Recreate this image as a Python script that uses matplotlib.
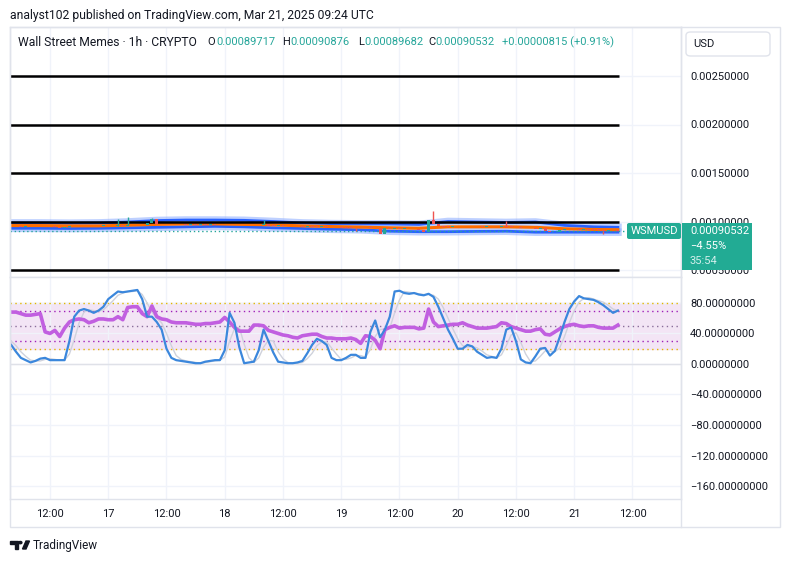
import numpy as np
import matplotlib.pyplot as plt
from matplotlib.patches import FancyBboxPatch, Rectangle, Polygon, Circle
from matplotlib.lines import Line2D

plt.rcParams['font.family'] = ['Roboto', 'DejaVu Sans']

W, H = 785, 562

# hourly bars, hour 0 = Mar 16 00:00
start_hour = 4
first_open_u = 949
# closes in micro-USD
close_u = [950, 952, 948, 951, 953, 950, 949, 951, 953, 948,
           936, 946, 951, 953, 950, 952, 954, 951, 953, 955,
           952, 954, 958, 956, 962, 960, 965, 963, 980, 1025,
           975, 972, 974, 970, 972, 971, 969, 970, 968, 970,
           967, 968, 965, 963, 966, 962, 960, 963, 965, 961,
           959, 960, 972, 957, 955, 956, 953, 951, 952, 950,
           948, 950, 947, 945, 946, 943, 941, 940, 938, 936,
           935, 930, 928, 935, 933, 932, 872, 935, 925, 926,
           924, 925, 920, 918, 917, 895, 1015, 975, 950, 945,
           943, 944, 942, 943, 941, 942, 944, 943, 945, 942,
           944, 950, 948, 946, 940, 935, 930, 928, 926, 930,
           900, 890, 895, 915, 918, 920, 918, 917, 919, 916,
           915, 914, 900, 910, 909, 905.32]
spike_idx = [22, 24, 29, 30, 52, 87, 102]
spike_high_u = [1030, 1050, 1035, 1030, 1012, 1113, 1002]
dip_idx = [10, 71, 76, 122]
dip_low_u = [928, 897, 866, 866]

band_hours = [4, 10, 16, 22, 28, 34, 40, 46, 52, 58, 64, 70, 76, 82, 88,
              94, 100, 106, 112, 118, 124, 129]
band_upper_u = [985, 985, 982, 985, 995, 1010, 1015, 1015, 1012, 1000, 985,
                978, 975, 975, 970, 1000, 995, 990, 995, 960, 945, 940]
band_mid_u = [958, 958, 955, 955, 962, 970, 975, 975, 970, 965, 955,
              948, 942, 935, 930, 945, 945, 945, 940, 925, 918, 915]
band_lower_u = [930, 930, 928, 930, 935, 940, 945, 950, 945, 935, 928,
                920, 915, 900, 895, 895, 898, 900, 890, 890, 890, 890]

stoch_k = [25, 16, 8, 5, 2, 4, 7, 8, 5, 5,
           5, 5, 30, 62, 70, 72, 70, 67, 70, 75,
           85, 90, 95, 94, 95, 96, 97, 85, 62, 62,
           55, 45, 20, 8, 5, 4, 3, 2, 1, 1,
           3, 4, 5, 5, 18, 67, 54, 22, 1, 2,
           3, 18, 45, 30, 15, 3, 2, 1, 1, 2,
           4, 14, 25, 33, 30, 25, 8, 5, 5, 8,
           12, 12, 8, 8, 42, 57, 35, 45, 62, 95,
           96, 93, 92, 93, 91, 90, 92, 88, 75, 60,
           45, 33, 20, 20, 25, 23, 16, 12, 8, 9,
           8, 20, 45, 48, 30, 6, 2, 1, 10, 20,
           21, 11, 17, 35, 55, 72, 82, 89, 86, 85,
           84, 81, 77, 72, 67, 70]
stoch_d = [30, 24, 16, 10, 5, 4, 4, 6, 7, 6,
           5, 5, 13, 32, 54, 68, 71, 70, 69, 71,
           77, 83, 90, 93, 95, 95, 96, 91, 80, 68,
           60, 54, 40, 24, 11, 6, 4, 3, 2, 1,
           2, 3, 4, 5, 9, 30, 46, 48, 26, 8,
           2, 8, 22, 31, 30, 16, 7, 2, 1, 1,
           2, 7, 14, 24, 29, 29, 21, 13, 6, 6,
           8, 11, 11, 9, 19, 36, 45, 46, 47, 67,
           84, 95, 94, 93, 92, 91, 91, 90, 85, 74,
           60, 46, 33, 24, 22, 23, 21, 17, 12, 10,
           8, 12, 24, 38, 41, 28, 13, 3, 4, 10,
           17, 17, 16, 21, 36, 54, 70, 81, 86, 87,
           85, 83, 81, 77, 72, 70]
rsi = [68, 68, 66, 64, 64, 65, 66, 42, 40, 44,
       36, 47, 55, 58, 59, 58, 54, 56, 59, 59,
       58, 58, 62, 58, 74, 75, 75, 66, 62, 76,
       62, 59, 58, 55, 54, 54, 54, 53, 52, 52,
       53, 53, 54, 55, 61, 55, 48, 43, 43, 43,
       51, 51, 50, 44, 42, 40, 38, 37, 35, 34,
       37, 38, 39, 39, 36, 34, 34, 33, 33, 33,
       34, 32, 27, 37, 36, 31, 20, 45, 48, 50,
       47, 48, 48, 48, 46, 47, 72, 55, 49, 50,
       51, 52, 52, 54, 51, 49, 47, 47, 47, 48,
       49, 54, 53, 49, 47, 45, 43, 43, 45, 46,
       39, 38, 42, 46, 49, 51, 52, 50, 49, 50,
       50, 48, 47, 47, 47, 51]

price_levels = [0.0005, 0.0010, 0.0015, 0.0020, 0.0025]
osc_ticks = [80, 40, 0, -40, -80, -120, -160]
time_ticks = [12, 24, 36, 48, 60, 72, 84, 96, 108, 120, 132]
time_labels = ['12:00', '17', '12:00', '18', '12:00', '19', '12:00', '20',
               '12:00', '21', '12:00']
last_price = 0.00090532

GREEN = '#26a69a'
RED = '#ef5350'
TXT = '#131722'
BORDER = '#e0e3eb'
GRID = '#f0f3fa'


def fx(x):
    return x / W


def fy(y):
    return 1 - y / H


fig = plt.figure(figsize=(W / 100, H / 100), dpi=100)
fig.patch.set_facecolor('white')

ax_p = fig.add_axes([fx(10), fy(277), (681 - 10) / W, (277 - 27) / H])
ax_o = fig.add_axes([fx(10), fy(499), (681 - 10) / W, (499 - 277) / H])
xlim = (3.76, 142.0)

# ---- price pane ----
close = np.array(close_u) * 1e-6
open_ = np.r_[first_open_u * 1e-6, close[:-1]]
hours = start_hour + np.arange(len(close))
up = close >= open_
colors = np.where(up, GREEN, RED)

bh = np.array(band_hours)
for vals in (band_upper_u, band_lower_u):
    v = np.array(vals) * 1e-6
    ax_p.plot(bh, v, color='#7fa3ff', lw=5.5, alpha=0.5, zorder=2)
    ax_p.plot(bh, v, color='#2962ff', lw=2, zorder=2.1)
ax_p.plot(bh, np.array(band_mid_u) * 1e-6, color='#ff6d00', lw=2.2, zorder=2.5)

ax_p.hlines(price_levels, hours[0] - 0.3, hours[-1] + 0.3, color='black',
            lw=1.8, zorder=3)

body_bottom = np.minimum(open_, close)
body_h = np.maximum(np.abs(close - open_), 6e-6)
ax_p.bar(hours, body_h, bottom=body_bottom, width=0.6, color=colors, zorder=4)
for i, hi in zip(spike_idx, spike_high_u):
    ax_p.vlines(hours[i], max(open_[i], close[i]), hi * 1e-6, color=colors[i],
                lw=1, zorder=4)
for i, lo in zip(dip_idx, dip_low_u):
    ax_p.vlines(hours[i], lo * 1e-6, min(open_[i], close[i]), color=colors[i],
                lw=1, zorder=4)

ax_p.axhline(last_price, color=GREEN, ls=(0, (1, 2)), lw=1, zorder=3)

ax_p.set_xlim(*xlim)
ax_p.set_ylim(0.0005 - 7 / 97000, 0.0025 + 49 / 97000)
ax_p.set_yticks(price_levels)
ax_p.set_yticklabels([f'{v:.8f}' for v in price_levels])
ax_p.set_xticks(time_ticks)
ax_p.set_xticklabels([])

# ---- oscillator pane ----
ax_o.axhspan(20, 80, color='#f3e5f5', zorder=0.5)
ax_o.axhline(0, color='#dfe1e8', lw=1, zorder=0.6)
for lvl, c in ((80, '#e3b500'), (20, '#e3b500'), (70, '#a020b8'),
               (30, '#a020b8'), (50, '#8a6d9a')):
    ax_o.axhline(lvl, color=c, ls=(0, (1, 2.5)), lw=1, zorder=1)
ax_o.plot(hours, stoch_d, color='#cfd2dc', lw=1, zorder=2)
ax_o.plot(hours, stoch_k, color='#3b87dc', lw=1.6, zorder=3)
ax_o.plot(hours, rsi, color='#c15fe0', lw=2.6, zorder=2.5)

ax_o.set_xlim(*xlim)
ax_o.set_ylim(-177, 114)
ax_o.set_yticks(osc_ticks)
ax_o.set_yticklabels([f'{v:.8f}'.replace('-', '\u2212') for v in osc_ticks])
ax_o.set_xticks(time_ticks)
ax_o.set_xticklabels(time_labels)

for ax in (ax_p, ax_o):
    ax.yaxis.tick_right()
    ax.tick_params(axis='y', length=0, pad=6.5, labelsize=8, labelcolor=TXT)
    ax.tick_params(axis='x', length=0, pad=7, labelsize=8, labelcolor=TXT)
    ax.grid(color=GRID, lw=1, zorder=0)
    ax.set_axisbelow(True)
    for s in ax.spines.values():
        s.set_color(BORDER)
        s.set_linewidth(1)

# frame pieces
fig.add_artist(Rectangle((fx(10), fy(527)), (780 - 10) / W, (527 - 27) / H,
                         transform=fig.transFigure, fill=False,
                         edgecolor=BORDER, lw=1))
fig.add_artist(Line2D([fx(681), fx(681)], [fy(27), fy(527)],
                      transform=fig.transFigure, color=BORDER, lw=1))

# header
fig.text(fx(10), fy(15), 'analyst102 published on TradingView.com, Mar 21, 2025 09:24 UTC',
         fontsize=8.75, color=TXT, va='center', ha='left')

# legend row
yl = fy(42)
fig.text(fx(18), yl, 'Wall Street Memes \u00b7 1h \u00b7 CRYPTO', fontsize=8.7,
         color=TXT, va='center')
for lx, lab, vx, val in ((207, 'O', 216, '0.00089717'), (282, 'H', 290, '0.00090876'),
                         (358, 'L', 364, '0.00089682'), (428, 'C', 435, '0.00090532')):
    fig.text(fx(lx), yl, lab, fontsize=8, color=TXT, va='center')
    fig.text(fx(vx), yl, val, fontsize=8, color=GREEN, va='center')
fig.text(fx(502), yl, '+0.00000815 (+0.91%)', fontsize=8, color=GREEN, va='center')

# USD box
fig.add_artist(FancyBboxPatch((fx(686), fy(56)), (770 - 686) / W, 24 / H,
                              boxstyle='round,pad=0,rounding_size=0.006',
                              transform=fig.transFigure, facecolor='white',
                              edgecolor=BORDER, lw=1, zorder=5))
fig.text(fx(693), fy(44), 'USD', fontsize=8, color=TXT, va='center', zorder=6)

# price tags
fig.add_artist(FancyBboxPatch((fx(627), fy(239)), 54 / W, 16 / H,
                              boxstyle='round,pad=0,rounding_size=0.003',
                              transform=fig.transFigure, facecolor='#22ab94',
                              edgecolor='none', zorder=5))
fig.text(fx(654), fy(231), 'WSMUSD', fontsize=8, color='white', ha='center',
         va='center', zorder=6)
fig.add_artist(Rectangle((fx(682), fy(270)), 70 / W, 47 / H,
                         transform=fig.transFigure, facecolor='#22ab94',
                         edgecolor='none', zorder=5))
fig.text(fx(690), fy(231), '0.00090532', fontsize=8, color='white',
         va='center', zorder=6)
fig.text(fx(690), fy(246), '\u22124.55%', fontsize=8, color='white',
         va='center', zorder=6)
fig.text(fx(690), fy(261), '35:54', fontsize=8, color='#d4f0ec',
         va='center', zorder=6)

# logo
fig.add_artist(Polygon([(fx(10), fy(541)), (fx(18), fy(541)), (fx(18), fy(549)),
                        (fx(14.5), fy(549)), (fx(14.5), fy(544)), (fx(10), fy(544))],
                       closed=True, transform=fig.transFigure, color=TXT))
fig.add_artist(Circle((fx(20.3), fy(542.6)), 1.6 / W, transform=fig.transFigure,
                      color=TXT))
fig.add_artist(Polygon([(fx(22.5), fy(549)), (fx(26), fy(541)), (fx(29.5), fy(541)),
                        (fx(26), fy(549))],
                       closed=True, transform=fig.transFigure, color=TXT))
fig.text(fx(33), fy(545), 'TradingView', fontsize=8.5, color=TXT, va='center')

fig.savefig('out.png', dpi=100)
